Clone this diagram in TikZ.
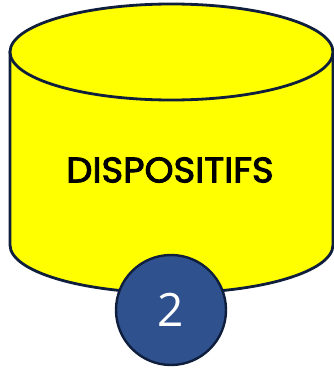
\documentclass[tikz,border=0pt]{standalone}
\usepackage{fontspec}
\setmainfont{Poppins}
\newfontfamily\labelfont{Poppins}[FakeBold=2.6]
\newfontfamily\numfont{Open Sans}
\definecolor{outl}{HTML}{0F1E3C}
\definecolor{canfill}{HTML}{FFFF00}
\definecolor{badge}{HTML}{2F528F}
\begin{document}
\begin{tikzpicture}[x=1pt,y=1pt,
  canline/.style={draw=outl,line width=2.8pt,fill=canfill},
  badgestyle/.style={circle,draw=outl,line width=2.4pt,fill=badge,minimum size=110pt,inner sep=0pt}]
\useasboundingbox (0,0) rectangle (334,368);
% cylinder body
\path[canline] (10,316) -- (10,123) arc[start angle=180,end angle=360,x radius=161.5,y radius=48] -- (333,316) -- cycle;
\path[canline] (171.5,316) ellipse[x radius=161.5,y radius=48];
\node[xscale=1.04] (label) at (170,198) {\fontsize{35.5}{38}\selectfont\labelfont DISPOSITIFS};
\node[badgestyle] (badgec) at (171,58) {};
\node[text=white] (num) at (badgec) {\fontsize{46}{50}\selectfont\numfont 2};
\end{tikzpicture}
\end{document}
